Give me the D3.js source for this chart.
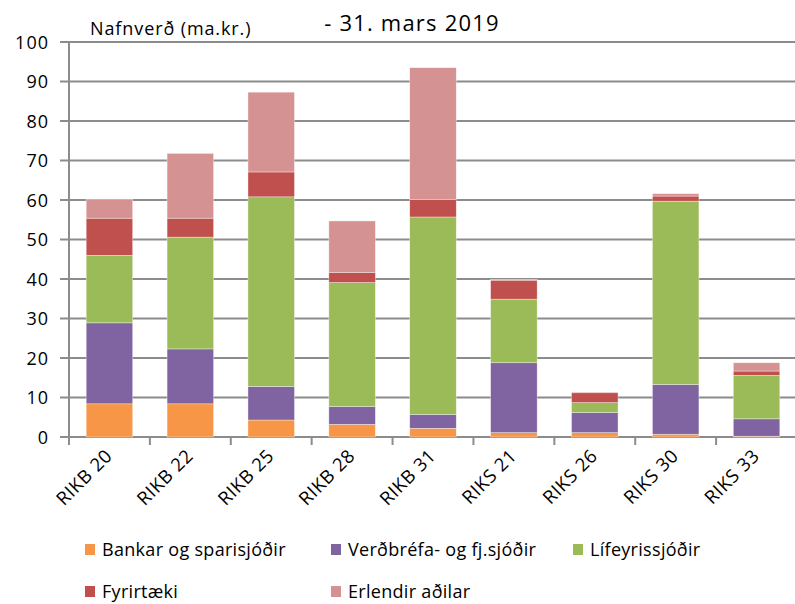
<!DOCTYPE html>
<html>
<head>
<meta charset="utf-8">
<script src="https://cdn.jsdelivr.net/npm/d3@7"></script>
<style>
  html, body { margin: 0; padding: 0; background: #fff; }
  svg { display: block; }
  text { font-family: "Open Sans", sans-serif; fill: #000; }
</style>
</head>
<body>
<script>
// Holders of government bonds by instrument, nominal value (bn ISK)
const categories = ["RIKB 20", "RIKB 22", "RIKB 25", "RIKB 28", "RIKB 31", "RIKS 21", "RIKS 26", "RIKS 30", "RIKS 33"];
const seriesNames = ["Bankar og sparisjóðir", "Verðbréfa- og  fj.sjóðir", "Lífeyrissjóðir", "Fyrirtæki", "Erlendir aðilar"];
const seriesColors = ["#F79646", "#8064A2", "#9BBB59", "#C0504D", "#D49392"];
const bankar    = [8.4, 8.4, 4.3, 3.2, 2.2, 1.1, 1.1, 0.7, 0.2];
const verdbrefa = [20.5, 13.9, 8.5, 4.5, 3.5, 17.7, 5.1, 12.6, 4.4];
const lifeyris  = [17.1, 28.3, 48.0, 31.4, 50.0, 16.1, 2.5, 46.4, 11.0];
const fyrirtaeki = [9.4, 4.8, 6.3, 2.5, 4.4, 4.8, 2.5, 1.3, 1.1];
const erlendir  = [4.7, 16.4, 20.2, 13.1, 33.4, 0.2, 0.2, 0.6, 2.1];
const yTicks = [0, 10, 20, 30, 40, 50, 60, 70, 80, 90, 100];

const W = 795, H = 604;
const margin = { left: 69, right: -2, top: 42, bottom: 167 };

const svg = d3.select("body").append("svg").attr("width", W).attr("height", H);

const x = d3.scaleBand().domain(categories).range([margin.left, W - margin.right]).padding(0);
const y = d3.scaleLinear().domain([0, 100]).range([H - margin.bottom, margin.top]);

const rows = categories.map((c, i) => ({
  cat: c,
  s0: bankar[i], s1: verdbrefa[i], s2: lifeyris[i], s3: fyrirtaeki[i], s4: erlendir[i]
}));
const keys = ["s0", "s1", "s2", "s3", "s4"];
const stacked = d3.stack().keys(keys)(rows);

// gridlines with short tick marks left of the axis
svg.append("g")
  .selectAll("line")
  .data(yTicks)
  .join("line")
  .attr("x1", margin.left - 9)
  .attr("x2", W)
  .attr("y1", d => y(d))
  .attr("y2", d => y(d))
  .attr("stroke", "#8c8c8c")
  .attr("stroke-width", 2);

// y labels
svg.append("g")
  .selectAll("text")
  .data(yTicks)
  .join("text")
  .attr("x", 49)
  .attr("y", d => y(d))
  .attr("dy", "0.38em")
  .attr("text-anchor", "end")
  .style("font-size", "18px")
  .style("letter-spacing", "1px")
  .text(d => d);

// bars
const barW = x.bandwidth() * 0.575;
svg.append("g")
  .selectAll("g")
  .data(stacked)
  .join("g")
  .attr("fill", (d, i) => seriesColors[i])
  .selectAll("rect")
  .data(d => d)
  .join("rect")
  .attr("x", d => x(d.data.cat) + (x.bandwidth() - barW) / 2)
  .attr("width", barW)
  .attr("y", d => y(d[1]))
  .attr("height", d => Math.max(0, y(d[0]) - y(d[1])))
  .attr("stroke", "rgba(255,255,255,0.6)")
  .attr("stroke-width", 0.6);

// y axis line
svg.append("line")
  .attr("x1", margin.left).attr("x2", margin.left)
  .attr("y1", y(100)).attr("y2", y(0) + 8)
  .attr("stroke", "#8c8c8c").attr("stroke-width", 2);

// category tick marks at band boundaries
svg.append("g")
  .selectAll("line")
  .data(categories.slice(1))
  .join("line")
  .attr("x1", d => x(d)).attr("x2", d => x(d))
  .attr("y1", y(0)).attr("y2", y(0) + 8)
  .attr("stroke", "#8c8c8c").attr("stroke-width", 2);

// rotated category labels
svg.append("g")
  .selectAll("text")
  .data(categories)
  .join("text")
  .attr("transform", d => `translate(${x(d) + x.bandwidth() / 2 + 4},${y(0) + 20}) rotate(-45)`)
  .attr("text-anchor", "end")
  .style("font-size", "18.5px")
  .style("letter-spacing", "0.6px")
  .text(d => d);

// axis title and subtitle
svg.append("text")
  .attr("x", 90).attr("y", 35)
  .style("font-size", "18px")
  .style("letter-spacing", "0.9px")
  .text("Nafnverð (ma.kr.)");

svg.append("text")
  .attr("x", 412).attr("y", 31)
  .attr("text-anchor", "middle")
  .style("font-size", "22px")
  .style("letter-spacing", "1.2px")
  .text("- 31. mars 2019");

// legend
const legendPos = [[85, 556], [331, 556], [573, 556], [85, 598], [331, 598]];
const lg = svg.append("g")
  .selectAll("g")
  .data(seriesNames)
  .join("g")
  .attr("transform", (d, i) => `translate(${legendPos[i][0]},${legendPos[i][1]})`);
lg.append("rect")
  .attr("x", 0).attr("y", -12).attr("width", 10).attr("height", 11)
  .attr("fill", (d, i) => seriesColors[i]);
lg.append("text")
  .attr("x", 17).attr("y", 0)
  .style("font-size", "18px")
  .style("letter-spacing", "0.3px")
  .text(d => d);
</script>
</body>
</html>
